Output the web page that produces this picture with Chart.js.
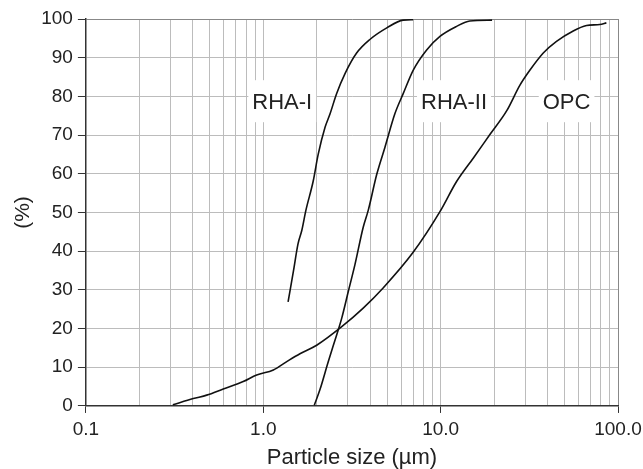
<!DOCTYPE html>
<html>
<head>
<meta charset="utf-8">
<script src="https://cdn.jsdelivr.net/npm/chart.js@4/dist/chart.umd.min.js"></script>
<style>
  body { margin: 0; background: #fff; }
</style>
</head>
<body>
<canvas id="myChart" width="643" height="469"></canvas>
<script>
// particle size (um) and cumulative passing (%)
const rha1Size = [1.38, 1.48, 1.57, 1.65, 1.74, 1.91, 2.04, 2.23, 2.38, 2.59, 2.89, 3.36, 3.99, 4.97, 6.15, 7.0];
const rha1Pct = [26.9, 34.9, 41.9, 45.4, 50.6, 58, 65, 72, 75.5, 80.7, 85.9, 91.2, 94.7, 97.7, 99.7, 99.8];

const rha2Size = [1.94, 2.09, 2.32, 2.59, 2.77, 3.02, 3.29, 3.66, 3.91, 4.36, 4.85, 5.52, 6.15, 7.01, 8.34, 9.91, 12.3, 14.6, 19.5];
const rha2Pct = [0.2, 4.3, 11.3, 18.3, 22.7, 29.7, 36.6, 46.2, 50.6, 59.8, 66.8, 75.5, 80.7, 86.8, 92, 95.5, 98.1, 99.5, 99.7];

const opcSize = [0.309, 0.403, 0.48, 0.595, 0.771, 0.918, 1.14, 1.35, 1.61, 2.0, 2.77, 3.66, 4.74, 7.0, 9.91, 12.3, 15.3, 19, 23.6, 28, 31.9, 37.9, 45, 55.9, 66.5, 79, 86];
const opcPct = [0.3, 1.9, 2.8, 4.4, 6.3, 8.0, 9.3, 11.4, 13.5, 15.7, 20.5, 25.3, 30.5, 39.7, 50.2, 58, 64.1, 70.2, 76.3, 82.9, 86.8, 91.2, 94.2, 96.9, 98.3, 98.6, 99];

const xTickValues = [0.1, 1, 10, 100];
const xTickLabels = ["0.1", "1.0", "10.0", "100.0"];

const curveNames = ["RHA-I", "RHA-II", "OPC"];
const curveLabelX = [1.28, 11.9, 51.3];
const curveLabelY = [78.5, 78.5, 78.5];

function toPoints(xs, ys) {
  return xs.map((x, i) => ({ x: x, y: ys[i] }));
}

// log grid: 1..9 in every decade
const gridTicks = [];
for (let d = 0; d < xTickValues.length - 1; d++) {
  for (let m = 1; m <= 9; m++) {
    gridTicks.push(xTickValues[d] * m);
  }
}
gridTicks.push(xTickValues[xTickValues.length - 1]);

function isMajor(v) {
  return xTickValues.some((t) => Math.abs(t - v) < 1e-9);
}

Chart.defaults.font.family = "'Liberation Sans', Arial, sans-serif";
Chart.defaults.color = "#222";

const curveLabels = {
  id: "curveLabels",
  beforeDatasetsDraw(chart) {
    const ctx = chart.ctx;
    const xs = chart.scales.x;
    const ys = chart.scales.y;
    ctx.save();
    ctx.font = "22px 'Liberation Sans', Arial, sans-serif";
    ctx.textAlign = "center";
    ctx.textBaseline = "middle";
    for (let i = 0; i < curveNames.length; i++) {
      const px = xs.getPixelForValue(curveLabelX[i]);
      const py = ys.getPixelForValue(curveLabelY[i]);
      const w = ctx.measureText(curveNames[i]).width + 8;
      ctx.fillStyle = "#fff";
      ctx.fillRect(px - w / 2, py - 22, w, 42);
      ctx.fillStyle = "#222";
      ctx.fillText(curveNames[i], px, py + 1);
    }
    ctx.restore();
  },
};

const lineStyle = {
  borderColor: "#111",
  borderWidth: 1.6,
  pointRadius: 0,
  fill: false,
  cubicInterpolationMode: "monotone",
};

const el = document.getElementById("myChart");

new Chart(el, {
  type: "line",
  data: {
    datasets: [
      Object.assign({ label: curveNames[0], data: toPoints(rha1Size, rha1Pct) }, lineStyle),
      Object.assign({ label: curveNames[1], data: toPoints(rha2Size, rha2Pct) }, lineStyle),
      Object.assign({ label: curveNames[2], data: toPoints(opcSize, opcPct) }, lineStyle),
    ],
  },
  options: {
    responsive: false,
    animation: false,
    layout: {
      padding: { top: 19, right: 0, bottom: 0, left: 11 },
    },
    plugins: {
      legend: { display: false },
      tooltip: { enabled: false },
    },
    scales: {
      x: {
        type: "logarithmic",
        min: 0.1,
        max: 100,
        afterBuildTicks: (scale) => {
          scale.ticks = gridTicks.map((v) => ({ value: v, major: isMajor(v) }));
        },
        // let the last label run to the edge like the original
        afterFit: (scale) => {
          scale.paddingRight = 25;
        },
        ticks: {
          autoSkip: false,
          maxRotation: 0,
          padding: 8,
          font: { size: 19, lineHeight: 0.95 },
          color: "#222",
          callback: (value) => {
            const k = xTickValues.findIndex((t) => Math.abs(t - value) < 1e-9);
            return k >= 0 ? xTickLabels[k] : "";
          },
        },
        grid: {
          color: (c) => (c.tick && c.tick.value === 100 ? "#888" : "#bcbcbc"),
          lineWidth: 1,
          tickLength: 7,
          tickColor: (c) => (c.tick && isMajor(c.tick.value) ? "#333" : "rgba(0,0,0,0)"),
        },
        border: { display: true, color: "#333", width: 1.5 },
        title: {
          display: true,
          text: "Particle size (\u00b5m)",
          font: { size: 22, lineHeight: 1.0 },
          color: "#222",
          padding: { top: 0, bottom: 0 },
        },
      },
      y: {
        min: 0,
        max: 100,
        ticks: {
          stepSize: 10,
          padding: 5,
          font: { size: 19 },
          color: "#222",
        },
        grid: {
          color: (c) => (c.tick && c.tick.value === 100 ? "#888" : "#bcbcbc"),
          lineWidth: 1,
          tickLength: 8,
          tickColor: "#333",
        },
        border: { display: true, color: "#333", width: 1.5 },
        title: {
          display: true,
          text: "(%)",
          font: { size: 21 },
          color: "#222",
          padding: { top: 0, bottom: 0 },
        },
      },
    },
  },
  plugins: [curveLabels],
});
</script>
</body>
</html>
